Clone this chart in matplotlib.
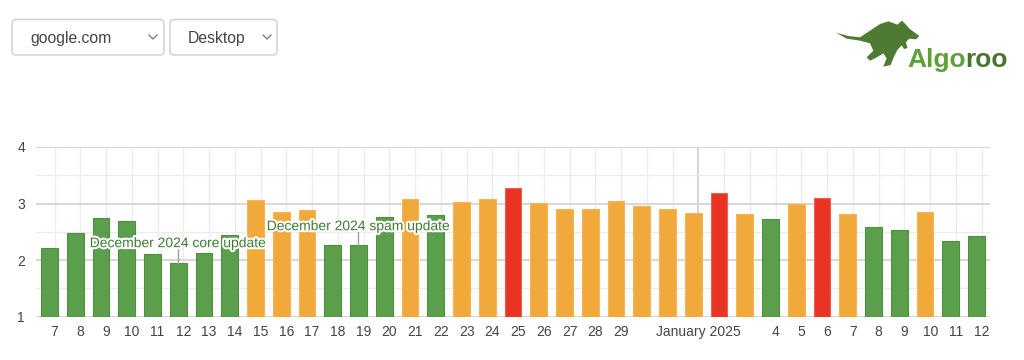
import matplotlib
matplotlib.use("Agg")
import matplotlib.pyplot as plt
import matplotlib.patheffects as pe
from matplotlib.patches import FancyBboxPatch, Polygon
import numpy as np

plt.rcParams['font.family'] = ['Liberation Sans', 'DejaVu Sans']

# ---- data ----
days = ["Dec 7", "Dec 8", "Dec 9", "Dec 10", "Dec 11", "Dec 12", "Dec 13", "Dec 14",
        "Dec 15", "Dec 16", "Dec 17", "Dec 18", "Dec 19", "Dec 20", "Dec 21", "Dec 22",
        "Dec 23", "Dec 24", "Dec 25", "Dec 26", "Dec 27", "Dec 28", "Dec 29", "Dec 30",
        "Dec 31", "Jan 1", "Jan 2", "Jan 3", "Jan 4", "Jan 5", "Jan 6", "Jan 7",
        "Jan 8", "Jan 9", "Jan 10", "Jan 11", "Jan 12"]
values = [2.22, 2.48, 2.75, 2.69, 2.11, 1.95, 2.12, 2.45,
          3.06, 2.85, 2.88, 2.27, 2.27, 2.77, 3.08, 2.79,
          3.02, 3.08, 3.28, 3.01, 2.91, 2.91, 3.04, 2.95,
          2.91, 2.83, 3.18, 2.81, 2.73, 2.99, 3.10, 2.81,
          2.58, 2.54, 2.85, 2.34, 2.42]
status = ["g", "g", "g", "g", "g", "g", "g", "g",
          "o", "o", "o", "g", "g", "g", "o", "g",
          "o", "o", "r", "o", "o", "o", "o", "o",
          "o", "o", "r", "o", "g", "o", "r", "o",
          "g", "g", "o", "g", "g"]
tick_labels = ["7", "8", "9", "10", "11", "12", "13", "14", "15", "16", "17", "18",
               "19", "20", "21", "22", "23", "24", "25", "26", "27", "28", "29", "",
               "", "January 2025", "", "", "4", "5", "6", "7", "8", "9", "10", "11", "12"]
annotations = [("December 2024 core update", "Dec 12"),
               ("December 2024 spam update", "Dec 19")]
y_ticks = [1, 2, 3, 4]

fill = {"g": "#5b9e4c", "o": "#f2a93c", "r": "#e93424"}
edge = {"g": "#4f9040", "o": "#f5b457", "r": "#f06050"}

W, H = 1024, 360
fig = plt.figure(figsize=(W / 100, H / 100), dpi=100)
ax = fig.add_axes([36 / W, 1 - 316.7 / H, 954 / W, (316.7 - 147) / H])

x = np.arange(len(days))
ax.bar(x, np.array(values) - 1, bottom=1, width=0.65,
       color=[fill[s] for s in status], edgecolor=[edge[s] for s in status],
       linewidth=0.8, zorder=3)

ax.set_xlim(-0.52, len(days) - 1 + 0.52)
ax.set_ylim(1, 4)

# grid
off = 0.2
for i in x:
    major = days[i] == "Jan 1"
    ax.axvline(i + off, color="#d2d2d2" if major else "#ececec",
               lw=1.3 if major else 1.0, zorder=1)
for yv in np.arange(1, 4.01, 0.5):
    major = float(yv).is_integer()
    ax.axhline(yv, color="#d8d8d8" if major else "#ececec",
               lw=1.5 if major else 1.0, zorder=1)

for s in ax.spines.values():
    s.set_visible(False)
ax.set_xticks(x + off)
ax.set_xticklabels(tick_labels, fontsize=10, color="#444444")
ax.set_yticks(y_ticks)
ax.set_yticklabels([str(v) for v in y_ticks], fontsize=10, color="#444444")
ax.tick_params(axis="both", length=0)
ax.tick_params(axis="x", pad=6)
ax.tick_params(axis="y", pad=8)

# annotations
halo = [pe.withStroke(linewidth=3, foreground="white")]
ann_text_y = [2.30, 2.60]
for (txt, day), ty in zip(annotations, ann_text_y):
    i = days.index(day)
    v = values[i]
    ax.plot([i, i], [v, ty - 0.11], color="#a0a0a0", lw=1, zorder=4)
    ax.text(i, ty, txt, ha="center", va="center", fontsize=10,
            color="#3f7d33", path_effects=halo, zorder=5)

# ---- decorations (pixel overlay) ----
ov = fig.add_axes([0, 0, 1, 1], facecolor="none")
ov.set_xlim(0, W)
ov.set_ylim(H, 0)
ov.axis("off")

for (x0, x1, label, cx) in [(12, 164, "google.com", 153), (170, 277, "Desktop", 267)]:
    ov.add_patch(FancyBboxPatch((x0, 19.5), x1 - x0, 35.5,
                                boxstyle="round,pad=0,rounding_size=4",
                                fc="white", ec="#cfcfcf", lw=1))
    ov.text(x0 + 18, 38, label, fontsize=11.3, color="#444444", va="center", ha="left")
    ov.plot([cx - 4, cx, cx + 4], [35, 39, 35], color="#777777", lw=0.9)

roo = [(48, 68), (85, 78), (120, 82), (150, 62), (180, 42), (205, 34), (232, 44),
       (246, 32), (258, 44), (268, 56), (298, 78), (288, 88), (268, 86), (258, 96),
       (262, 114), (252, 117), (245, 106), (232, 120), (222, 140), (212, 165),
       (190, 170), (200, 145), (190, 130), (165, 145), (150, 152), (140, 142),
       (160, 122), (150, 100), (120, 92), (80, 86)]
ov.add_patch(Polygon([(px / 3 + 820, py / 3 + 10) for px, py in roo],
                     closed=True, fc="#4e7a34", ec="none"))
t1 = ov.text(907, 67, "Algo", fontsize=19, fontweight="bold", color="#5ea03a",
             ha="left", va="baseline")
fig.canvas.draw()
bb = t1.get_window_extent()
ov.text(bb.x1, 67, "roo", fontsize=19, fontweight="bold", color="#4a7530",
        ha="left", va="baseline")

fig.savefig("out.png", dpi=100)
